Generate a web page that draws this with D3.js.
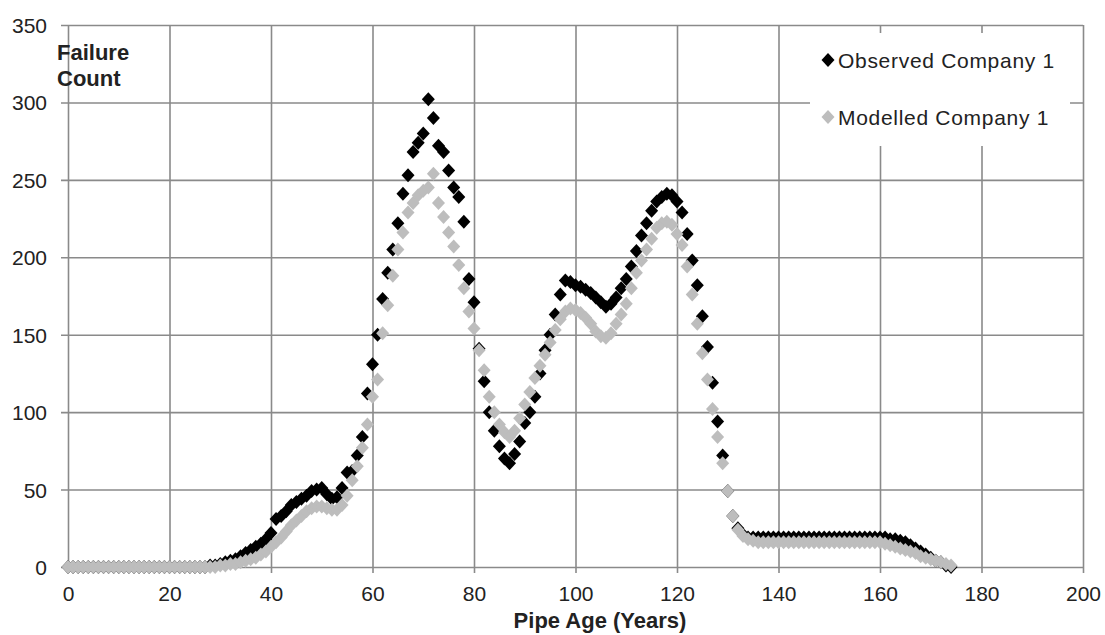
<!DOCTYPE html>
<html>
<head>
<meta charset="utf-8">
<script src="https://cdn.jsdelivr.net/npm/d3@7"></script>
<style>
  html, body { margin: 0; padding: 0; background: #fff; }
  svg { display: block; }
</style>
</head>
<body>
<svg id="chart" width="1105" height="635"></svg>
<script>
// ---- Data ----
const seriesNames = ["Observed Company 1", "Modelled Company 1"];
const xTicks = [0, 20, 40, 60, 80, 100, 120, 140, 160, 180, 200];
const yTicks = [0, 50, 100, 150, 200, 250, 300, 350];
const xTitle = "Pipe Age (Years)";
const yTitle = ["Failure", "Count"];

// pipe age 0..174, one value per year
const observed = [
  0,0,0,0,0,0,0,0,0,0, 0,0,0,0,0,0,0,0,0,0, 0,0,0,0,0,0,0,0,1,1,
  2,3,4,5,7,9,11,13,15,18,
  22,31,33,36,40,42,44,46,49,50,
  51,47,44,45,51,61,62,72,84,112,
  131,150,173,190,205,222,241,253,268,274,
  280,302,290,272,268,256,245,239,223,186,
  171,141,120,100,88,78,70,67,73,81,
  93,100,110,125,140,150,163,176,185,184,
  182,181,179,177,174,171,168,170,174,180,
  186,194,204,214,222,230,236,239,241,240,
  236,229,215,198,182,162,142,119,94,72,
  49,33,25,21,19,19,19,19,19,19,
  19,19,19,19,19,19,19,19,19,19,
  19,19,19,19,19,19,19,19,19,19,
  19,19,18,18,17,16,14,12,10,8,
  6,4,3,1,0
];
const modelled = [
  0,0,0,0,0,0,0,0,0,0, 0,0,0,0,0,0,0,0,0,0, 0,0,0,0,0,0,0,0,0,0,
  1,1,2,2,3,4,5,6,8,10,
  13,16,19,23,27,30,33,36,38,39,
  39,38,37,37,40,46,56,65,77,92,
  110,121,151,169,188,205,216,229,235,240,
  243,245,254,235,226,216,207,195,180,165,
  154,140,127,110,100,92,87,84,88,96,
  105,113,122,130,137,145,153,160,165,167,
  166,164,161,157,152,149,148,151,157,163,
  170,180,190,198,205,212,219,222,223,221,
  215,208,194,176,157,138,121,102,84,67,
  49,33,24,20,18,17,16,16,16,16,
  16,16,16,16,16,16,16,16,16,16,
  16,16,16,16,16,16,16,16,16,16,
  16,15,14,13,12,11,10,9,7,6,
  5,4,3,2,1
];

// ---- Layout ----
const svg = d3.select("#chart");
const plotLeft = 68, plotRight = 1083, plotTop = 25, plotBottom = 567;
const x = d3.scaleLinear().domain([0, 200]).range([plotLeft, plotRight]);
const y = d3.scaleLinear().domain([0, 350]).range([plotBottom, plotTop]);
const gridColor = "#8a8a8a";
const font = "'Liberation Sans', Arial, sans-serif";
const colors = ["#000000", "#bdbdbd"];
const diamond = "M0,-7L6.5,0L0,7L-6.5,0Z";

// X axis with gridlines (ticks extend 6px below the zero line)
const gx = svg.append("g")
  .attr("transform", `translate(0,${plotBottom + 6})`)
  .call(d3.axisBottom(x).tickValues(xTicks).tickSize(-(plotBottom + 6 - plotTop)).tickPadding(13).tickFormat(d3.format("d")));
gx.select(".domain").remove();
gx.selectAll(".tick line").attr("stroke", gridColor).attr("stroke-width", 1.6);
gx.selectAll(".tick text").attr("font-family", font).attr("font-size", 21).attr("fill", "#222");

// Y axis with gridlines
const gy = svg.append("g")
  .attr("transform", `translate(${plotLeft - 7},0)`)
  .call(d3.axisLeft(y).tickValues(yTicks).tickSize(-(plotRight - plotLeft + 7)).tickPadding(14).tickFormat(d3.format("d")));
gy.select(".domain").remove();
gy.selectAll(".tick line").attr("stroke", gridColor).attr("stroke-width", 1.6);
gy.selectAll(".tick text").attr("font-family", font).attr("font-size", 21).attr("fill", "#222").attr("dy", "0.36em");

// Series
const series = [observed, modelled];
series.forEach((vals, si) => {
  svg.append("g")
    .selectAll("path")
    .data(vals)
    .join("path")
    .attr("d", diamond)
    .attr("transform", (v, i) => `translate(${x(i)},${y(v)})`)
    .attr("fill", colors[si]);
});

// Axis titles
svg.append("text")
  .attr("x", 600).attr("y", 628)
  .attr("text-anchor", "middle")
  .attr("font-family", font).attr("font-size", 22).attr("font-weight", "bold")
  .attr("fill", "#222")
  .text(xTitle);
const yt = svg.append("text")
  .attr("font-family", font).attr("font-size", 22).attr("font-weight", "bold")
  .attr("fill", "#222");
yt.append("tspan").attr("x", 57).attr("y", 60).text(yTitle[0]);
yt.append("tspan").attr("x", 57).attr("y", 86).text(yTitle[1]);

// Legend
const lg = svg.append("g");
lg.append("rect").attr("x", 810).attr("y", 33).attr("width", 260).attr("height", 113).attr("fill", "#fff");
seriesNames.forEach((name, i) => {
  const cy = 60 + i * 57;
  lg.append("path").attr("d", diamond).attr("transform", `translate(828,${cy})`).attr("fill", colors[i]);
  lg.append("text")
    .attr("x", 838).attr("y", cy + 7.5)
    .attr("font-family", font).attr("font-size", 21).attr("letter-spacing", 0.7)
    .attr("fill", "#222")
    .text(name);
});
</script>
</body>
</html>
